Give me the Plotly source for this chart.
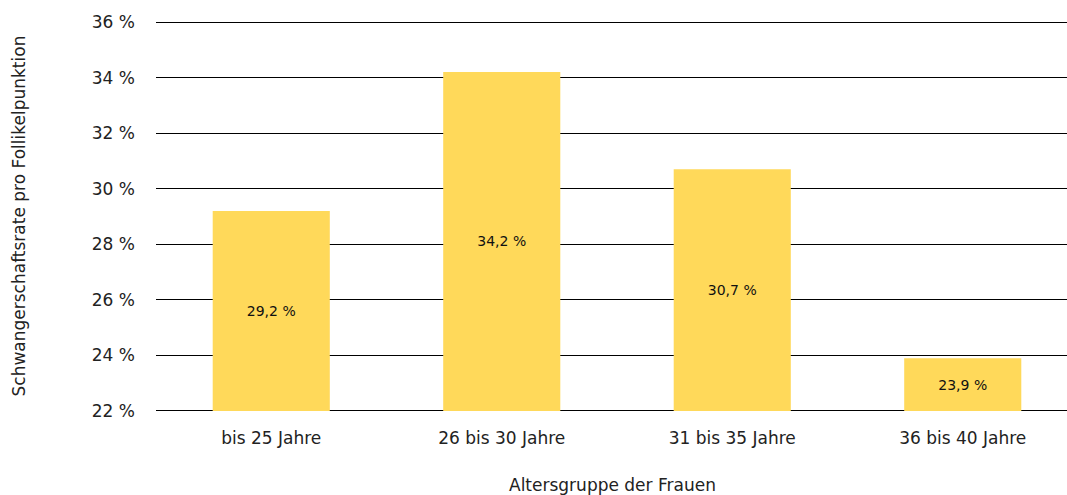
import plotly.graph_objects as go

age_groups = ['bis 25 Jahre', '26 bis 30 Jahre', '31 bis 35 Jahre', '36 bis 40 Jahre']
pregnancy_rate = [29.2, 34.2, 30.7, 23.9]
y_ticks = [22, 24, 26, 28, 30, 32, 34, 36]
base_value = 22

fig = go.Figure()

fig.add_trace(go.Bar(
    x=age_groups,
    y=[v - base_value for v in pregnancy_rate],
    base=base_value,
    width=0.508,
    marker=dict(color='#FFD95A', line=dict(width=0)),
    text=[f'{v:.1f} %'.replace('.', ',') for v in pregnancy_rate],
    textposition='inside',
    insidetextanchor='middle',
    textfont=dict(size=14, color='#111111'),
    hoverinfo='skip',
))

# the original plot area runs a little past the right edge of the window
fig.update_layout(
    width=1078,
    height=495,
    margin=dict(l=156, r=0, t=21, b=83),
    plot_bgcolor='white',
    paper_bgcolor='white',
    font=dict(family='DejaVu Sans', size=17, color='#222222'),
    showlegend=False,
)

fig.update_xaxes(
    showline=False,
    showgrid=False,
    ticks='',
    automargin=False,
    ticklabelstandoff=14,
)

fig.update_yaxes(
    range=[21.96, 36.04],
    tickvals=y_ticks,
    ticktext=[f'{t} %' for t in y_ticks],
    showgrid=True,
    gridcolor='#000000',
    gridwidth=1,
    zeroline=False,
    showline=False,
    ticks='',
    automargin=False,
    ticklabelstandoff=20,
)

# axis titles
fig.add_annotation(text='Altersgruppe der Frauen', xref='paper', yref='paper',
                   x=(612 - 156) / 922, y=-73 / 391, yanchor='middle', showarrow=False,
                   font=dict(size=17))
fig.add_annotation(text='Schwangerschaftsrate pro Follikelpunktion', xref='paper', yref='paper',
                   x=(18 - 156) / 922, y=0.5, xanchor='center', yanchor='middle', textangle=-90,
                   showarrow=False, font=dict(size=17))

# drop the default page margin and scrollbars so the figure fills the window
fig.write_html('out.html', config={'responsive': False, 'displayModeBar': False},
               post_script="document.body.style.margin='0';document.body.style.overflow='hidden';")
